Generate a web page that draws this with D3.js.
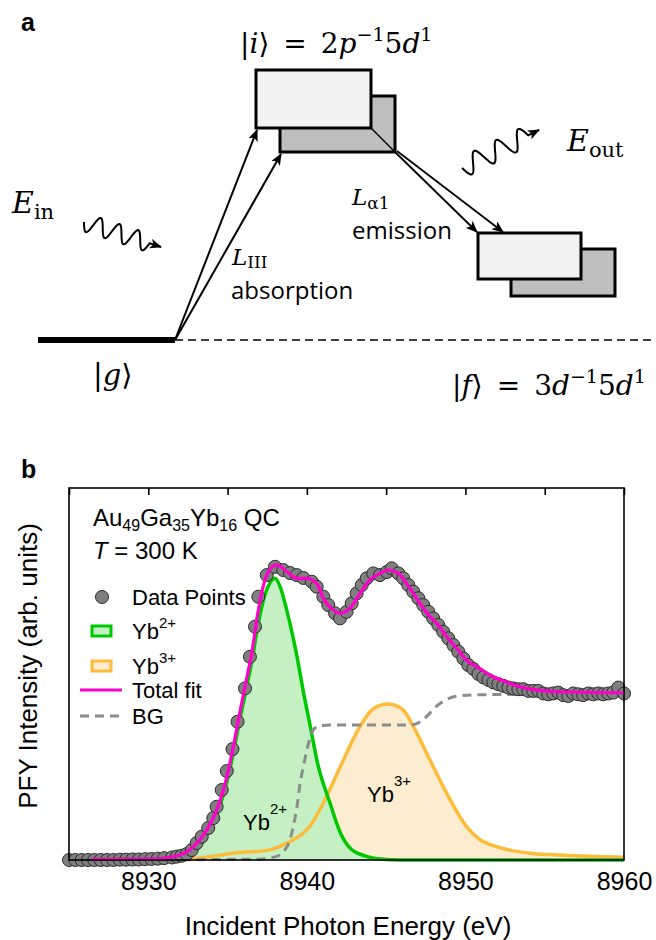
<!DOCTYPE html>
<html><head><meta charset="utf-8">
<script src="https://cdn.jsdelivr.net/npm/d3@7"></script>
<style>body{margin:0;background:#fff}svg{display:block}</style>
</head><body><svg id="c" width="656" height="940"></svg>
<script>
// ---------------- DATA (panel b) ----------------
// measured PFY data points: [incident energy (eV), intensity (arb. units)]
const dataPoints = [
 [8925.0,0.000],[8925.4,0.000],[8925.8,0.000],[8926.2,0.000],[8926.6,0.000],[8927.0,0.000],
 [8927.4,0.000],[8927.8,0.000],[8928.2,0.002],[8928.6,0.002],[8929.0,0.003],[8929.4,0.003],
 [8929.8,0.005],[8930.2,0.006],[8930.6,0.008],[8931.0,0.011],[8931.5,0.015],[8931.8,0.020],
 [8932.1,0.025],[8932.42,0.035],[8932.74,0.059],[8933.05,0.100],[8933.37,0.138],[8933.78,0.189],
 [8934.10,0.248],[8934.31,0.315],[8934.63,0.414],[8934.95,0.526],[8935.31,0.656],[8935.63,0.818],
 [8936.10,1.015],[8936.41,1.202],[8936.73,1.380],[8936.94,1.557],[8937.47,1.685],[8937.99,1.734],
 [8938.51,1.715],[8938.94,1.697],[8939.36,1.685],[8939.78,1.668],[8940.31,1.646],[8940.62,1.616],
 [8941.04,1.557],[8941.35,1.508],[8941.78,1.459],[8942.09,1.429],[8942.51,1.468],[8942.83,1.518],
 [8943.14,1.577],[8943.46,1.626],[8943.77,1.666],[8944.19,1.695],[8944.61,1.685],[8945.04,1.703],
 [8945.35,1.725],[8945.77,1.695],[8946.08,1.666],[8946.40,1.626],[8946.71,1.587],[8947.03,1.548],
 [8947.34,1.508],[8947.66,1.468],[8947.97,1.429],[8948.29,1.390],[8948.60,1.350],[8948.92,1.311],
 [8949.24,1.271],[8949.55,1.232],[8949.87,1.192],[8950.18,1.153],[8950.50,1.130],[8950.82,1.100],
 [8951.13,1.080],[8951.45,1.065],[8951.76,1.050],[8952.08,1.040],[8952.39,1.030],[8952.71,1.020],
 [8953.02,1.015],[8953.34,1.010],[8953.65,1.010],[8953.97,1.000],[8954.28,1.000],[8954.60,1.000],
 [8954.91,0.985],[8955.23,0.980],[8955.54,0.985],[8955.86,0.990],[8956.17,0.975],[8956.49,0.970],
 [8956.80,0.985],[8957.12,0.980],[8957.43,0.975],[8957.75,0.985],[8958.06,0.980],[8958.38,0.985],
 [8958.69,0.980],[8959.01,0.985],[8959.32,0.990],[8959.64,1.020],[8960.00,0.985]
];
// total fit (magenta)
const totalFit = [
 [8926.43,0.004],[8930.11,0.006],[8932.00,0.030],[8932.84,0.079],[8933.68,0.177],[8934.31,0.295],
 [8934.95,0.492],[8935.36,0.670],[8935.68,0.828],[8936.10,1.026],[8936.52,1.222],[8936.94,1.479],
 [8937.36,1.656],[8937.68,1.720],[8938.10,1.745],[8938.73,1.706],[8939.36,1.666],[8939.99,1.666],
 [8940.62,1.636],[8941.04,1.548],[8941.67,1.478],[8942.09,1.459],[8942.72,1.488],[8943.35,1.577],
 [8943.98,1.656],[8944.61,1.695],[8945.14,1.715],[8945.77,1.695],[8946.50,1.606],[8947.13,1.518],
 [8947.77,1.439],[8948.19,1.400],[8948.82,1.321],[8949.45,1.252],[8950.18,1.173],[8950.71,1.143],
 [8951.76,1.084],[8952.81,1.045],[8953.86,1.015],[8955.96,0.995],[8959.96,0.989]
];
// Yb2+ component (green)
const yb2Fit = [
 [8926.43,0.000],[8930.00,0.003],[8932.00,0.020],[8932.84,0.068],[8933.68,0.160],[8934.31,0.270],
 [8934.95,0.460],[8935.36,0.630],[8935.68,0.785],[8936.10,0.980],[8936.52,1.170],[8936.94,1.400],
 [8937.36,1.570],[8937.68,1.640],[8937.99,1.666],[8938.30,1.620],[8938.73,1.478],[8939.36,1.212],
 [8939.76,1.005],[8940.20,0.798],[8940.70,0.562],[8941.46,0.337],[8942.09,0.166],[8942.72,0.071],
 [8943.67,0.024],[8944.61,0.006],[8945.87,0.000],[8960.00,0.000]
];
// Yb3+ component (orange)
const yb3Fit = [
 [8926.43,0.002],[8930.00,0.005],[8932.63,0.009],[8933.05,0.011],[8935.36,0.040],[8937.68,0.060],
 [8938.51,0.090],[8939.15,0.120],[8939.78,0.160],[8940.20,0.200],[8940.83,0.300],[8941.46,0.420],
 [8942.30,0.590],[8943.35,0.790],[8944.19,0.895],[8945.14,0.922],[8946.08,0.887],[8946.71,0.790],
 [8947.77,0.590],[8948.82,0.394],[8950.08,0.196],[8950.92,0.120],[8951.97,0.079],[8954.07,0.040],
 [8956.17,0.028],[8960.00,0.016]
];
// background (grey dashed)
const bgFit = [
 [8926.43,0.000],[8937.00,0.005],[8937.68,0.012],[8938.30,0.030],[8938.62,0.060],[8938.90,0.110],
 [8939.15,0.200],[8939.40,0.330],[8939.57,0.450],[8939.80,0.560],[8939.95,0.630],[8940.20,0.720],
 [8940.41,0.770],[8940.83,0.795],[8941.46,0.798],[8946.50,0.798],[8947.00,0.810],[8947.34,0.830],
 [8947.77,0.870],[8948.19,0.910],[8948.82,0.950],[8949.40,0.968],[8950.50,0.976],[8954.00,0.980],
 [8960.00,0.982]
];
const xDomain = [8925, 8960];
const yDomain = [0, 2.2];
const topTicks = [8925, 8930, 8935, 8940, 8945, 8950, 8955, 8960];
const bottomTickLabels = [8930, 8940, 8950, 8960];

// ---------------- drawing ----------------
const svg = d3.select("#c");
const SANS = "'Liberation Sans', Arial, sans-serif";
const SERIF = "'DejaVu Serif', 'Liberation Serif', serif";
const CAL = "'Open Sans', sans-serif";
const ES = "\u2002";

const defs = svg.append("defs");
defs.append("marker").attr("id","ah").attr("viewBox","0 0 12 10").attr("refX",11).attr("refY",5)
  .attr("markerWidth",12).attr("markerHeight",10).attr("markerUnits","userSpaceOnUse").attr("orient","auto")
  .append("path").attr("d","M0,0 L12,5 L0,10 L3,5 z").attr("fill","#000");

// rich text helper: parts [{t, it, fs, sh}] sh = baseline shift (px, negative = up)
function rich(g, x, y, parts, family, size, ls){
  const t = g.append("text").attr("x",x).attr("y",y).attr("font-family",family)
    .attr("font-size",size).attr("fill","#000");
  if(ls) t.attr("letter-spacing",ls);
  let cur = 0;
  parts.forEach(p=>{
    const sh = p.sh||0;
    const ts = t.append("tspan").text(p.t).attr("dy", sh-cur);
    cur = sh;
    if(p.it) ts.attr("font-style","italic");
    if(p.fs) ts.attr("font-size",p.fs);
  });
  return t;
}

// ===== Panel a =====
const A = svg.append("g");
A.append("text").attr("x",21).attr("y",31).attr("font-family",SANS).attr("font-weight","bold")
  .attr("font-size",25).text("a");

// ground state
A.append("line").attr("x1",38).attr("x2",175).attr("y1",340).attr("y2",340)
  .attr("stroke","#000").attr("stroke-width",6);
A.append("line").attr("x1",175).attr("x2",656).attr("y1",340).attr("y2",340)
  .attr("stroke","#000").attr("stroke-width",1.5).attr("stroke-dasharray","8,5");

// upper boxes
A.append("rect").attr("x",280).attr("y",96).attr("width",115).attr("height",56)
  .attr("fill","#bfbfbf").attr("stroke","#000").attr("stroke-width",3);
A.append("rect").attr("x",256).attr("y",70).attr("width",115).attr("height",58)
  .attr("fill","#f2f2f2").attr("stroke","#000").attr("stroke-width",3);
A.append("line").attr("x1",371).attr("y1",128).attr("x2",395).attr("y2",152)
  .attr("stroke","#000").attr("stroke-width",1.5);

// absorption arrows
[[256,128],[280,152]].forEach(p=>{
  A.append("line").attr("x1",175).attr("y1",340).attr("x2",p[0]+1).attr("y2",p[1]+2)
   .attr("stroke","#000").attr("stroke-width",2).attr("marker-end","url(#ah)");
});
// emission arrows
A.append("line").attr("x1",395).attr("y1",152).attr("x2",477).attr("y2",232)
  .attr("stroke","#000").attr("stroke-width",1.8).attr("marker-end","url(#ah)");
A.append("line").attr("x1",397).attr("y1",151).attr("x2",503).attr("y2",232)
  .attr("stroke","#000").attr("stroke-width",1.8).attr("marker-end","url(#ah)");

// lower boxes
A.append("rect").attr("x",511).attr("y",249).attr("width",104).attr("height",47)
  .attr("fill","#bfbfbf").attr("stroke","#000").attr("stroke-width",3);
A.append("rect").attr("x",478).attr("y",233).attr("width",103).attr("height",46)
  .attr("fill","#f2f2f2").attr("stroke","#000").attr("stroke-width",3);

// wavy photon arrows
function wave(x0,y0,x1,y1,cycles,amp,lead){
  const dx=x1-x0, dy=y1-y0, L=Math.hypot(dx,dy), ux=dx/L, uy=dy/L, nx=-uy, ny=ux;
  const Lw=L-lead, pts=[];
  for(let i=0;i<=160;i++){
    const s=i/160*Lw, a=amp*Math.sin(2*Math.PI*cycles*s/Lw);
    pts.push([x0+ux*s+nx*a, y0+uy*s+ny*a]);
  }
  pts.push([x1,y1]);
  return d3.line()(pts);
}
A.append("path").attr("d",wave(84,222,161,247,3.5,9,12)).attr("fill","none")
  .attr("stroke","#000").attr("stroke-width",2).attr("marker-end","url(#ah)");
A.append("path").attr("d",wave(462,168,539,130,3.0,10,12)).attr("fill","none")
  .attr("stroke","#000").attr("stroke-width",2).attr("marker-end","url(#ah)");

// labels
rich(A,240,53,[{t:"|"},{t:"i",it:1},{t:"\u27E9"+ES+"="+ES+"2"},{t:"p",it:1},{t:"\u22121",fs:19,sh:-12},{t:"5",sh:0},{t:"d",it:1},{t:"1",fs:19,sh:-12}],SERIF,28);
rich(A,452,395,[{t:"|"},{t:"f",it:1},{t:"\u27E9"+ES+"="+ES+"3"},{t:"d",it:1},{t:"\u22121",fs:19,sh:-12},{t:"5",sh:0},{t:"d",it:1},{t:"1",fs:19,sh:-12}],SERIF,28);
rich(A,93,385,[{t:"|"},{t:"g",it:1},{t:"\u27E9"}],SERIF,29);
rich(A,12,213,[{t:"E",it:1},{t:"in",fs:21,sh:6}],SERIF,30);
rich(A,567,151,[{t:"E",it:1},{t:"out",fs:21,sh:6}],SERIF,30);
rich(A,232,265,[{t:"L",it:1},{t:"III",fs:17,sh:3}],SERIF,23);
rich(A,352,205,[{t:"L",it:1},{t:"\u03B11",fs:17,sh:4}],SERIF,23);
A.append("text").attr("x",231).attr("y",299).attr("font-family",CAL).attr("font-size",24).text("absorption");
A.append("text").attr("x",352).attr("y",239).attr("font-family",CAL).attr("font-size",24).text("emission");

// ===== Panel b =====
const B = svg.append("g");
B.append("text").attr("x",21).attr("y",478).attr("font-family",SANS).attr("font-weight","bold")
  .attr("font-size",25).text("b");

const x = d3.scaleLinear().domain(xDomain).range([69, 624]);
const y = d3.scaleLinear().domain(yDomain).range([860, 488]);

const curve = d3.curveMonotoneX;
const area = d3.area().x(d=>x(d[0])).y0(y(0)).y1(d=>y(d[1])).curve(curve);
const line = d3.line().x(d=>x(d[0])).y(d=>y(d[1])).curve(curve);

const plot = B.append("g");
plot.append("path").attr("d",area(yb3Fit)).attr("fill","#fdedd0");
plot.append("path").attr("d",area(yb2Fit)).attr("fill","#c4f0c4");
plot.append("path").attr("d",line(yb3Fit)).attr("fill","none").attr("stroke","#fdbb3a").attr("stroke-width",3.5);
plot.append("path").attr("d",line(yb2Fit)).attr("fill","none").attr("stroke","#00c800").attr("stroke-width",3.5);
plot.append("path").attr("d",line(bgFit)).attr("fill","none").attr("stroke","#8c8c8c")
  .attr("stroke-width",3).attr("stroke-dasharray","9,6");

plot.selectAll("circle.pt").data(dataPoints).join("circle").attr("class","pt")
  .attr("cx",d=>x(d[0])).attr("cy",d=>y(d[1])).attr("r",6.5)
  .attr("fill","#7f7f7f").attr("stroke","#2a2a2a").attr("stroke-width",1);

plot.append("path").attr("d",line(totalFit)).attr("fill","none").attr("stroke","#ff00cc").attr("stroke-width",3.2);

// frame
B.append("rect").attr("x",69).attr("y",488).attr("width",555).attr("height",372)
  .attr("fill","none").attr("stroke","#000").attr("stroke-width",1.6);

// top ticks (inward)
const tAx = B.append("g").attr("transform","translate(0,488)")
  .call(d3.axisBottom(x).tickValues(topTicks).tickSize(7).tickFormat(""));
tAx.select(".domain").remove();
tAx.selectAll("line").attr("stroke","#000").attr("stroke-width",1.6);

// bottom labels
const bAx = B.append("g").attr("transform","translate(0,860)")
  .call(d3.axisBottom(x).tickValues(bottomTickLabels).tickSize(0).tickFormat(d3.format("d")));
bAx.select(".domain").remove();
bAx.selectAll("text").attr("y",30).attr("dy",0).attr("font-family",SANS).attr("font-size",25).attr("fill","#000");

// axis titles
B.append("text").attr("x",348).attr("y",935).attr("text-anchor","middle").attr("font-family",SANS)
  .attr("font-size",26).text("Incident Photon Energy (eV)");
B.append("text").attr("transform","translate(37,666) rotate(-90)").attr("text-anchor","middle")
  .attr("font-family",SANS).attr("font-size",26).text("PFY Intensity (arb. units)");

// sample annotation
rich(B,93,526,[{t:"Au"},{t:"49",fs:16,sh:5},{t:"Ga",sh:0},{t:"35",fs:16,sh:5},{t:"Yb",sh:0},{t:"16",fs:16,sh:5},{t:" QC",sh:0}],SANS,24);
rich(B,93,559,[{t:"T",it:1},{t:" = 300 K"}],SANS,24);

// legend
const L = B.append("g");
L.append("circle").attr("cx",102).attr("cy",597).attr("r",6.5).attr("fill","#7f7f7f").attr("stroke","#2a2a2a");
L.append("rect").attr("x",92).attr("y",626).attr("width",19).attr("height",10).attr("fill","#c4f0c4").attr("stroke","#00c800").attr("stroke-width",3);
L.append("rect").attr("x",92).attr("y",661).attr("width",19).attr("height",10).attr("fill","#fdedd0").attr("stroke","#fdbb3a").attr("stroke-width",3);
L.append("line").attr("x1",80).attr("x2",122).attr("y1",690).attr("y2",690).attr("stroke","#ff00cc").attr("stroke-width",3.2);
L.append("line").attr("x1",80).attr("x2",122).attr("y1",716).attr("y2",716).attr("stroke","#8c8c8c").attr("stroke-width",3).attr("stroke-dasharray","9,6");
L.append("text").attr("x",132).attr("y",605).attr("font-family",SANS).attr("font-size",22).text("Data Points");
rich(L,132,639,[{t:"Yb"},{t:"2+",fs:15,sh:-11}],SANS,22);
rich(L,132,674,[{t:"Yb"},{t:"3+",fs:15,sh:-11}],SANS,22);
L.append("text").attr("x",132).attr("y",698).attr("font-family",SANS).attr("font-size",22).text("Total fit");
L.append("text").attr("x",132).attr("y",724).attr("font-family",SANS).attr("font-size",22).text("BG");

// inline component labels
rich(B,243,830,[{t:"Yb"},{t:"2+",fs:15,sh:-16}],SANS,22);
rich(B,367,802,[{t:"Yb"},{t:"3+",fs:15,sh:-16}],SANS,22);
</script></body></html>
